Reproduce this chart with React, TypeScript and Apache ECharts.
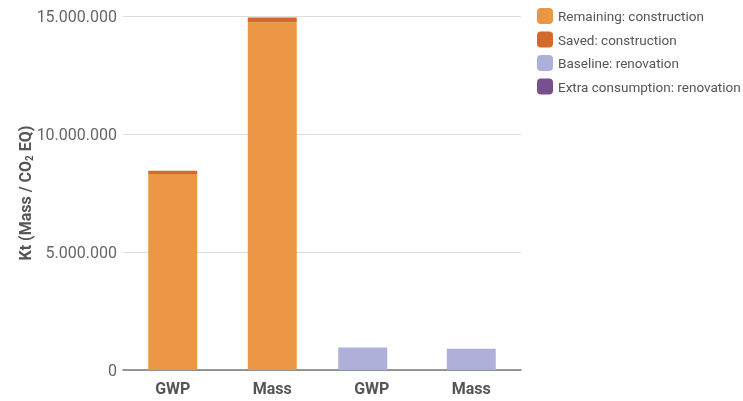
import React, { useEffect, useRef } from "react";
import * as echarts from "echarts";

const categories = ["GWP", "Mass", "GWP", "Mass"];
const remainingConstruction = [8310000, 14730000, null, null];
const savedConstruction = [130000, 210000, null, null];
const baselineRenovationGWP = [null, null, 950000, null];
const baselineRenovationMass = [null, null, null, 900000];
const extraRenovation = [null, null, 0, 0];
const yTicks = { min: 0, max: 15000000, interval: 5000000 };

const fmt = (v: number) => String(Math.round(v)).replace(/\B(?=(\d{3})+(?!\d))/g, ".");

export default function App() {
  const ref = useRef<HTMLDivElement>(null);
  useEffect(() => {
    if (!ref.current) return;
    const chart = echarts.init(ref.current, null, { renderer: "svg" });
    const font = "Roboto";
    const cOrange = "#EB9645";
    const cSaved = "#D4692C";
    const cBase = "#AFB0DA";
    const cExtra = "#77518B";
    chart.setOption({
      animation: false,
      textStyle: { fontFamily: font },
      legend: {
        orient: "vertical",
        left: 537,
        top: 8,
        padding: 0,
        itemWidth: 16,
        itemHeight: 16,
        itemGap: 7.5,
        icon: "roundRect",
        textStyle: { fontFamily: font, fontSize: 13.5, color: "#555" },
        data: [
          "Remaining: construction",
          "Saved: construction",
          "Baseline: renovation",
          "Extra consumption: renovation",
        ],
      },
      grid: [
        { left: 123, right: 222, top: 16, bottom: 31 },
        { left: 114, right: 231, top: 16, bottom: 31 },
      ],
      xAxis: [
        {
          type: "category",
          gridIndex: 0,
          data: categories,
          axisLine: { lineStyle: { color: "#777", width: 1.5 } },
          axisTick: { show: false },
          axisLabel: { fontFamily: font, fontSize: 16, fontWeight: "bold", color: "#555", margin: 10 },
        },
        {
          type: "category",
          gridIndex: 1,
          data: categories,
          show: false,
        },
      ],
      yAxis: [
        {
          type: "value",
          gridIndex: 0,
          min: yTicks.min,
          max: yTicks.max,
          interval: yTicks.interval,
          axisLine: { show: false },
          axisTick: { show: false },
          splitLine: { lineStyle: { color: "#dcdcdc", width: 1 } },
          axisLabel: { fontFamily: font, fontSize: 16, color: "#666", margin: 6, formatter: fmt },
          name: "{b|Kt (Mass / CO}{sub|2}{b| EQ)}",
          nameLocation: "middle",
          nameGap: 89,
          nameMoveOverlap: false,
          nameTextStyle: {
            fontFamily: font,
            fontSize: 16,
            fontWeight: "bold",
            color: "#555",
            rich: {
              b: { fontFamily: font, fontSize: 16, fontWeight: "bold", color: "#555" },
              sub: { fontFamily: font, fontSize: 10, fontWeight: "bold", color: "#555", verticalAlign: "bottom", padding: [8, 0, 0, 0] },
            },
          },
        },
        {
          type: "value",
          gridIndex: 1,
          min: yTicks.min,
          max: yTicks.max,
          interval: yTicks.interval,
          show: false,
          splitLine: { show: false },
        },
      ],
      series: [
        {
          name: "Remaining: construction",
          type: "bar",
          stack: "a",
          barWidth: 49,
          data: remainingConstruction,
          itemStyle: { color: cOrange },
        },
        {
          name: "Saved: construction",
          type: "bar",
          stack: "a",
          barWidth: 49,
          data: savedConstruction,
          itemStyle: { color: cSaved },
        },
        {
          name: "Baseline: renovation",
          type: "bar",
          stack: "a",
          barWidth: 49,
          data: baselineRenovationMass,
          itemStyle: { color: cBase },
        },
        {
          name: "Extra consumption: renovation",
          type: "bar",
          stack: "a",
          barWidth: 49,
          data: extraRenovation,
          itemStyle: { color: cExtra },
        },
        {
          name: "Baseline: renovation",
          type: "bar",
          xAxisIndex: 1,
          yAxisIndex: 1,
          stack: "b",
          barWidth: 49,
          data: baselineRenovationGWP,
          itemStyle: { color: cBase },
        },
      ],
    });
    return () => chart.dispose();
  }, []);
  return <div ref={ref} style={{ position: "fixed", left: 0, top: 0, width: 743, height: 401 }} />;
}
